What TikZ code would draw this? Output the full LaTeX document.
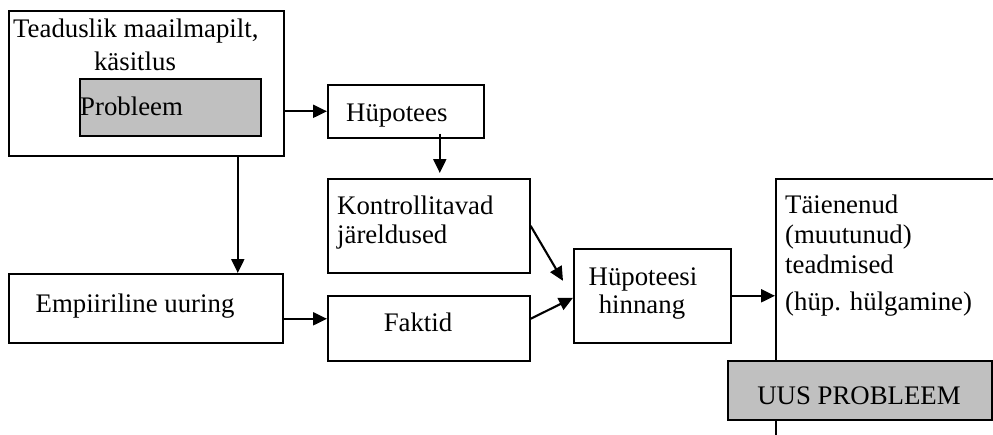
\documentclass[tikz,border=0pt]{standalone}
\usepackage{fontspec}
\setmainfont{Liberation Serif}
\usetikzlibrary{arrows.meta}
\definecolor{boxgray}{HTML}{C0C0C0}
\newcommand{\lbfont}{\fontsize{26.8}{30}\selectfont}
\tikzset{
  box/.style={draw, line width=1.6pt, inner sep=0pt, anchor=north west},
  graybox/.style={box, fill=boxgray},
  lbl/.style={inner sep=0pt, font=\lbfont},
  arr/.style={line width=2.1pt, -{Triangle[length=14pt,width=13pt]}},
}
\begin{document}
\begin{tikzpicture}[x=1pt,y=-1pt]
\useasboundingbox (0,0) rectangle (993,434);
\clip (0,0) rectangle (993,434);

% boxes
\node[box, minimum width=275pt, minimum height=145pt] (tl) at (8,10) {};
\node[graybox, minimum width=181pt, minimum height=57pt] (prob) at (79,78) {};
\node[box, minimum width=156pt, minimum height=53pt] (hyp) at (327,84) {};
\node[box, minimum width=202pt, minimum height=94pt] (kon) at (327,178) {};
\node[box, minimum width=202pt, minimum height=65pt] (fak) at (327,295) {};
\node[box, minimum width=274pt, minimum height=69pt] (emp) at (8,273) {};
\node[box, minimum width=157pt, minimum height=94pt] (hin) at (573,248) {};
\node[box, minimum width=260pt, minimum height=300pt] (know) at (775,178) {};
\node[graybox, minimum width=264pt, minimum height=59pt] (uus) at (727,360) {};

% texts
\node[lbl, anchor=base west] (t1) at (13,37) {Teaduslik maailmapilt,};
\node[lbl, anchor=base] (t2) at (135,70) {käsitlus};
\node[lbl, anchor=base west] (t3) at (80,115) {Probleem};
\node[lbl, anchor=base west] (t4) at (346,121) {Hüpotees};
\node[lbl, anchor=base west] (t5) at (337,214) {Kontrollitavad};
\node[lbl, anchor=base west] (t6) at (337,243) {järeldused};
\node[lbl, anchor=base] (t7) at (418,331) {Faktid};
\node[lbl, anchor=base] (t8) at (643,285) {Hüpoteesi};
\node[lbl, anchor=base] (t9) at (642,313) {hinnang};
\node[lbl, anchor=base west] (t10) at (785,213) {Täienenud};
\node[lbl, anchor=base west] (t11) at (785,243) {(muutunud)};
\node[lbl, anchor=base west] (t12) at (785,273) {teadmised};
\node[lbl, anchor=base west] (t13) at (785,310) {(hüp. hülgamine)};
\node[lbl, anchor=base] (t14) at (859,404) {UUS PROBLEEM};
\node[lbl, anchor=base] (t15) at (135,312) {Empiiriline uuring};

% connectors
\draw[arr] (tl.east |- hyp.west) -- (hyp.west);
\draw[arr] ([xshift=34pt,yshift=5pt]hyp.south) -- ([xshift=34pt,yshift=5pt]hyp.south |- kon.north);
\draw[arr] ([xshift=91.5pt]tl.south) -- ([xshift=91.5pt]tl.south |- emp.north);
\draw[arr] ([yshift=-10.5pt]emp.east) -- ([yshift=-10.5pt]emp.east -| fak.west);
\draw[arr] (kon.east) -- ([xshift=-10pt,yshift=15pt]hin.west);
\draw[arr] ([yshift=9.5pt]fak.east) -- ([yshift=-2pt]hin.west);
\draw[arr] (hin.east) -- (hin.east -| know.west);
\end{tikzpicture}
\end{document}
